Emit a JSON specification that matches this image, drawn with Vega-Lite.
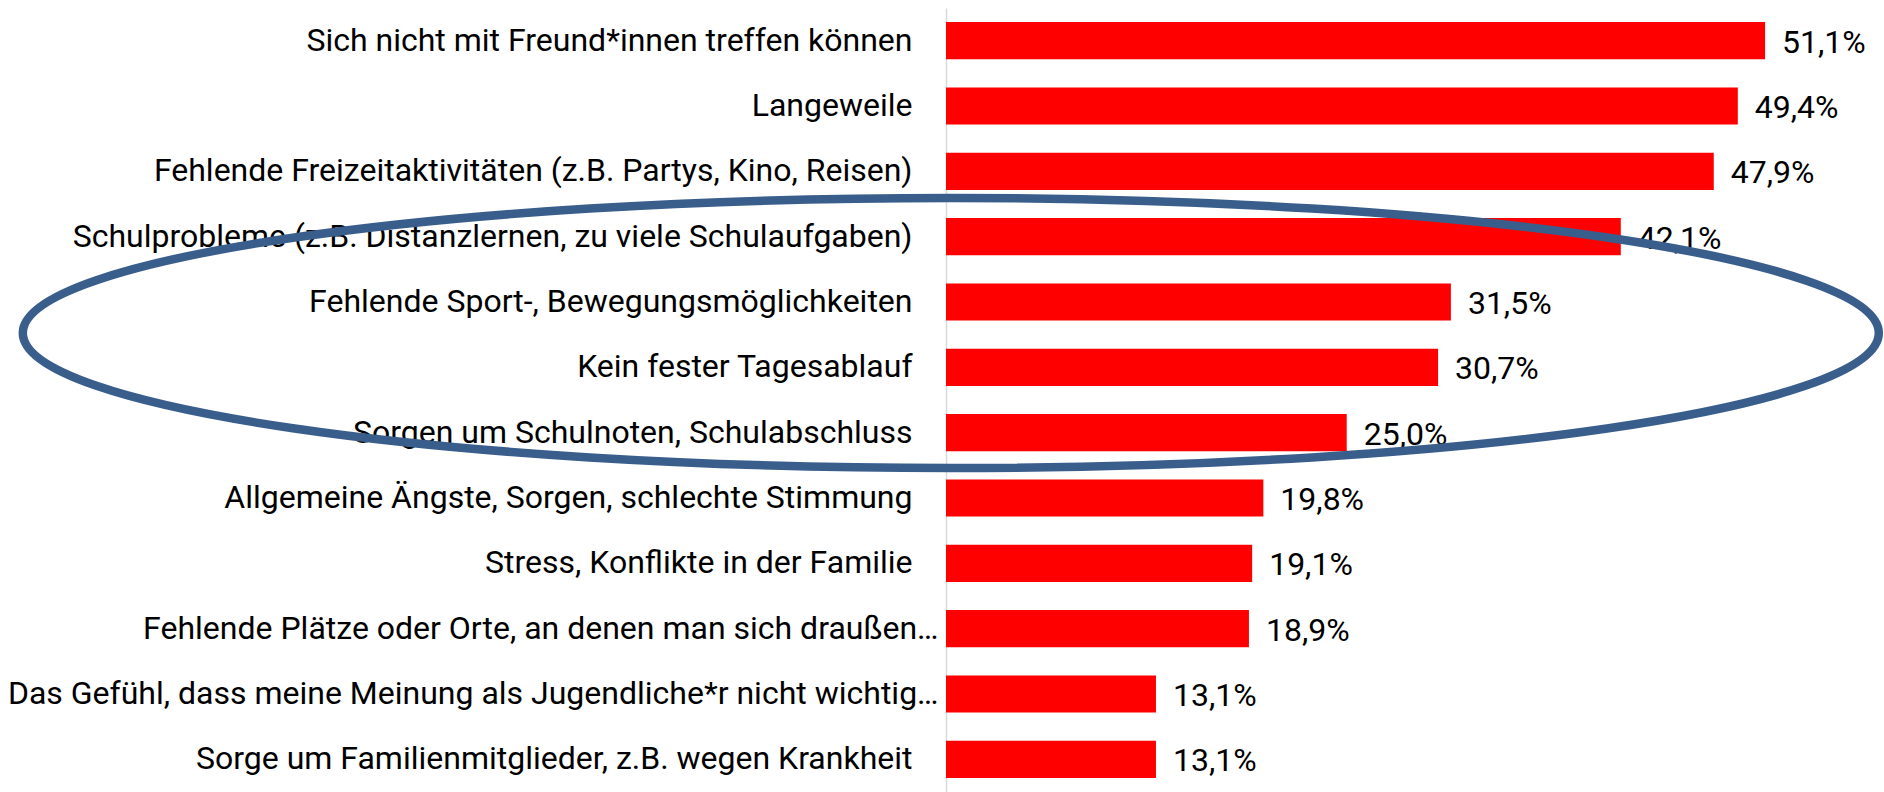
{
  "$schema": "https://vega.github.io/schema/vega-lite/v6.json",
  "autosize": {"type": "none"},
  "padding": {"left": 946, "top": 8, "right": 0, "bottom": 0},
  "width": 938,
  "height": 784,
  "background": "white",
  "config": {
    "view": {"stroke": null},
    "locale": {"number": {"decimal": ",", "thousands": ".", "grouping": [3], "currency": ["", " €"]}},
    "font": "Roboto"
  },
  "data": {
    "values": [
      {"label": "Sich nicht mit Freund*innen treffen können", "value": 0.511},
      {"label": "Langeweile", "value": 0.494},
      {"label": "Fehlende Freizeitaktivitäten (z.B. Partys, Kino, Reisen)", "value": 0.479},
      {"label": "Schulprobleme (z.B. Distanzlernen, zu viele Schulaufgaben)", "value": 0.421},
      {"label": "Fehlende Sport-, Bewegungsmöglichkeiten", "value": 0.315},
      {"label": "Kein fester Tagesablauf", "value": 0.307},
      {"label": "Sorgen um Schulnoten, Schulabschluss", "value": 0.25},
      {"label": "Allgemeine Ängste, Sorgen, schlechte Stimmung", "value": 0.198},
      {"label": "Stress, Konflikte in der Familie", "value": 0.191},
      {"label": "Fehlende Plätze oder Orte, an denen man sich draußen…", "value": 0.189},
      {"label": "Das Gefühl, dass meine Meinung als Jugendliche*r nicht wichtig…", "value": 0.131},
      {"label": "Sorge um Familienmitglieder, z.B. wegen Krankheit", "value": 0.131}
    ]
  },
  "encoding": {
    "y": {
      "field": "label",
      "type": "nominal",
      "sort": null,
      "scale": {"paddingInner": 0.43, "paddingOuter": 0.215},
      "axis": {
        "title": null,
        "ticks": false,
        "domain": true,
        "domainColor": "#d9d9d9",
        "domainWidth": 1.5,
        "labelPadding": {"condition": {"test": "test(/…$/, datum.label)", "value": 8}, "value": 34},
        "labelLimit": 2000,
        "labelFontSize": 32,
        "labelColor": "#000000",
        "labelFont": "Roboto"
      }
    }
  },
  "layer": [
    {
      "mark": {"type": "bar", "color": "#ff0000"},
      "encoding": {
        "x": {"field": "value", "type": "quantitative", "scale": {"domain": [0, 0.5852], "nice": false}, "axis": null}
      }
    },
    {
      "mark": {"type": "text", "align": "left", "baseline": "middle", "dx": 17, "dy": 2, "fontSize": 32, "font": "Roboto", "color": "#000000"},
      "encoding": {
        "x": {"field": "value", "type": "quantitative"},
        "text": {"field": "value", "type": "quantitative", "format": ".1%"}
      }
    },
    {
      "data": {"values": [{"note": "Hervorhebung"}]},
      "mark": {
        "type": "point",
        "shape": "M -1 0 A 1 0.1455 0 1 0 1 0 A 1 0.1455 0 1 0 -1 0 Z",
        "size": 3444736,
        "filled": false,
        "stroke": "#3a5e8c",
        "strokeWidth": 8.5,
        "opacity": 1,
        "yOffset": 31
      },
      "encoding": {
        "x": {"datum": 0.003, "type": "quantitative"},
        "y": {"datum": "Fehlende Sport-, Bewegungsmöglichkeiten"}
      }
    }
  ]
}
